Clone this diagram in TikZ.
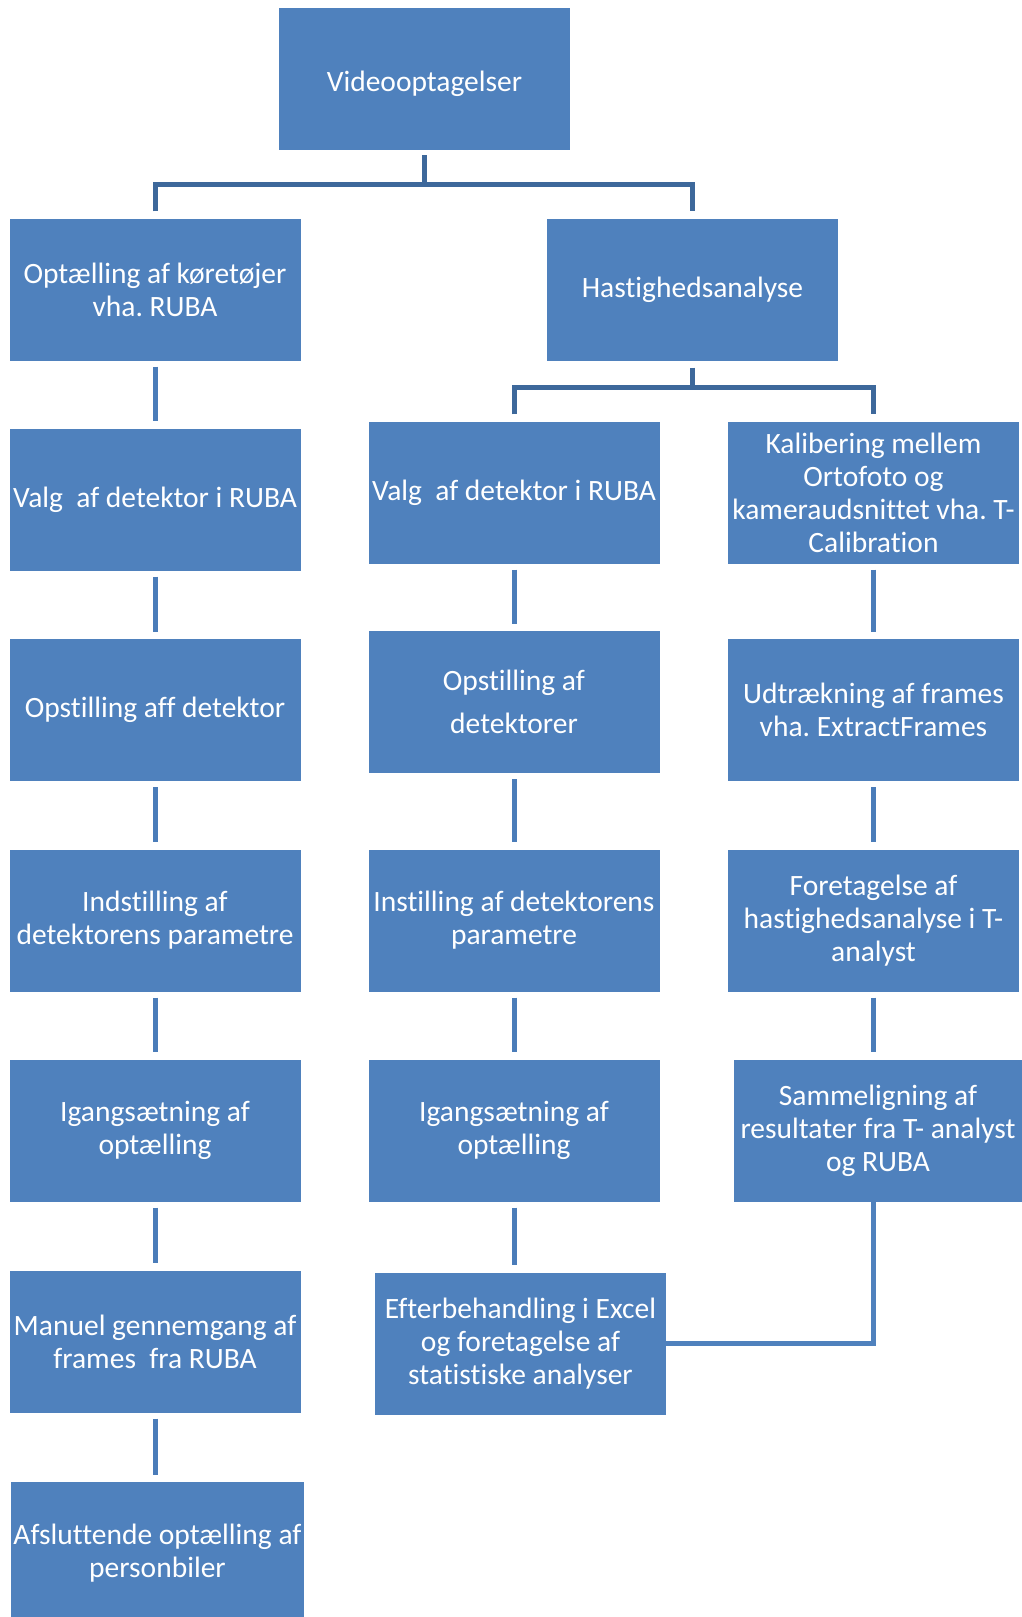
\documentclass[tikz,border=0pt]{standalone}
\usepackage{fontspec}
\setmainfont{Carlito}[Ligatures=NoCommon]
\usetikzlibrary{positioning,calc}
\definecolor{boxblue}{HTML}{4F81BD}
\definecolor{treeblue}{HTML}{3D689B}
\definecolor{linkblue}{HTML}{4A7CB9}
\frenchspacing

\begin{document}
\begin{tikzpicture}[
  x=1pt,y=-1pt,
  box/.style={rectangle, fill=boxblue, text=white, minimum width=291pt, minimum height=142pt, inner sep=2pt, align=center, font=\fontsize{29.5}{33}\selectfont},
  treeline/.style={line width=5pt, color=treeblue},
  link/.style={line width=5pt, color=linkblue, shorten <=6pt, shorten >=7pt},
  joinline/.style={line width=4.5pt, color=boxblue},
]
\useasboundingbox (0,0) rectangle (1022,1617);
% top and first split
\node[box] (vid) at (424.5,79) {\raisebox{-5pt}[\height][\depth]{Videooptagelser}};
\node[box] (opt) at (155,289.5) {Optælling af køretøjer\\vha. RUBA};
\node[box] (hast) at (692.5,289.5) {Hastighedsanalyse};
\coordinate (split1) at (424.5,184);
\draw[treeline,shorten <=5pt] (vid.south) -- (split1);
\draw[treeline,shorten <=7pt,shorten >=7pt] (opt.north) |- (split1) -| (hast.north);
% left column
\node[box] (lvalg) at (155,499.5) {Valg\ \ af detektor i RUBA};
\node[box] (lopst) at (155,710) {Opstilling aff detektor};
\node[box] (lind) at (155,920.5) {Indstilling af\\detektorens parametre};
\node[box] (ligang) at (155,1130.5) {Igangsætning af\\optælling};
\node[box] (lman) at (155,1341.5) {Manuel gennemgang af\\frames\ \ fra RUBA};
\node[box] (lafs) at (157.5,1553) {Afsluttende optælling af\\personbiler};
\draw[link] (opt) -- (lvalg); \draw[link] (lvalg) -- (lopst); \draw[link] (lopst) -- (lind);
\draw[link] (lind) -- (ligang); \draw[link] (ligang) -- (lman); \draw[link] (lman.south) -- (lman.south|-lafs.north);
% second split
\node[box] (mvalg) at (514,492.5) {Valg\ \ af detektor i RUBA};
\node[box] (kalib) at (873.5,492.5) {Kalibering mellem\\Ortofoto og\\kameraudsnittet vha. T-\\Calibration};
\coordinate (split2) at (692.5,387);
\draw[treeline,shorten <=7pt] (hast.south) -- (split2);
\draw[treeline,shorten <=7pt,shorten >=7pt] (mvalg.north) |- (split2) -| (kalib.north);
% middle column
\node[box] (mopst) at (514,702) {Opstilling af\\[10pt]detektorer};
\node[box] (minst) at (514,920.5) {Instilling af detektorens\\parametre};
\node[box] (migang) at (514,1130.5) {Igangsætning af\\optælling};
\node[box] (efter) at (520.5,1343.5) {Efterbehandling i Excel\\og foretagelse af\\statistiske analyser};
\draw[link] (mvalg) -- (mopst); \draw[link] (mopst) -- (minst); \draw[link] (minst) -- (migang);
\draw[link] (migang.south) -- (migang.south|-efter.north);
% right column
\node[box] (udtr) at (873.5,710) {Udtrækning af frames\\vha. ExtractFrames};
\node[box] (foret) at (873.5,920.5) {Foretagelse af\\hastighedsanalyse i T-\\analyst};
\node[box, minimum width=288pt] (samm) at (878,1130.5) {Sammeligning af\\resultater fra T- analyst\\og RUBA};
\draw[link] (kalib) -- (udtr); \draw[link] (udtr) -- (foret);
\draw[link] (foret.south) -- (foret.south|-samm.north);
\draw[joinline] (samm.south-|foret.south) |- (efter.east);
\end{tikzpicture}
\end{document}
